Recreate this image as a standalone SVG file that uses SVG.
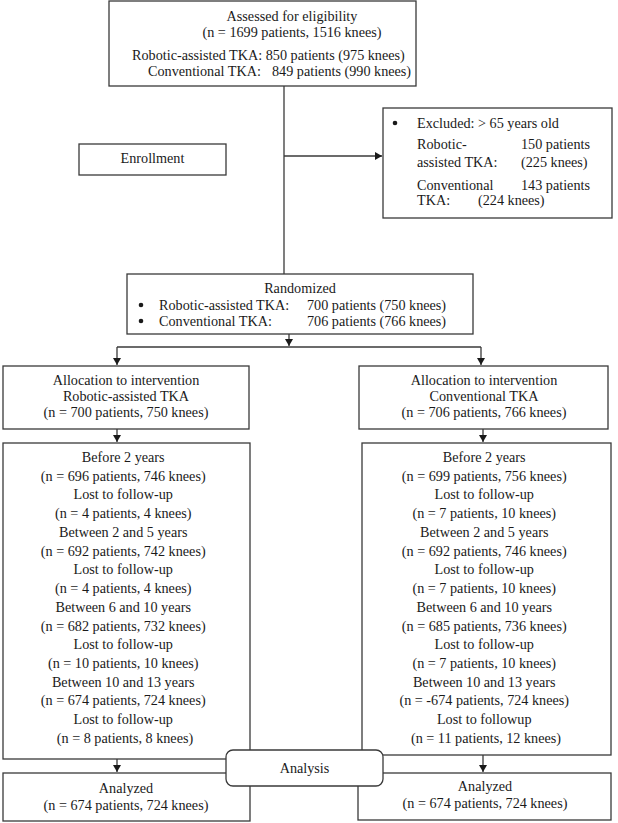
<svg xmlns="http://www.w3.org/2000/svg" width="618" height="823" viewBox="0 0 618 823">
<style>
text{font-family:"Liberation Serif","Times New Roman",serif;font-size:14.2px;fill:#1a1a1a}
.c{text-anchor:middle}
.box{fill:#fff;stroke:#3a3a3a;stroke-width:1.3}
.ln{fill:none;stroke:#3a3a3a;stroke-width:1.3}
.dot{fill:#1a1a1a}
</style>
<defs>
<marker id="ah" markerWidth="7" markerHeight="8" refX="7" refY="4" orient="auto" markerUnits="userSpaceOnUse">
<path d="M0,0 L7,4 L0,8 Z" fill="#1a1a1a"/>
</marker>
</defs>
<rect width="618" height="823" fill="#fff"/>
<g id="connectors">
<path class="ln" d="M284,86 V274"/>
<path class="ln" d="M284,156 H382" marker-end="url(#ah)"/>
<path class="ln" d="M289,334 V346" marker-end="url(#ah)"/>
<path class="ln" d="M117,347 H481"/>
<path class="ln" d="M117,347 V365" marker-end="url(#ah)"/>
<path class="ln" d="M481,347 V365" marker-end="url(#ah)"/>
<path class="ln" d="M117,429 V442" marker-end="url(#ah)"/>
<path class="ln" d="M483,429 V442" marker-end="url(#ah)"/>
<path class="ln" d="M117,759 V772" marker-end="url(#ah)"/>
<path class="ln" d="M483,755 V772" marker-end="url(#ah)"/>
</g>
<g id="assessed">
<rect class="box" x="109" y="1" width="307" height="85"/>
<text class="c" x="292" y="21">Assessed for eligibility</text>
<text class="c" x="292" y="37">(n = 1699 patients, 1516 knees)</text>
<text x="132" y="60">Robotic-assisted TKA: 850 patients (975 knees)</text>
<text x="148" y="76">Conventional TKA:</text>
<text x="272" y="76">849 patients (990 knees)</text>
</g>
<g id="excluded">
<rect class="box" x="383" y="108" width="229" height="110"/>
<circle class="dot" cx="395" cy="123" r="2.3"/>
<text x="417" y="128">Excluded: &gt; 65 years old</text>
<text x="417" y="149">Robotic-</text>
<text x="521" y="149">150 patients</text>
<text x="417" y="167">assisted TKA:</text>
<text x="521" y="167">(225 knees)</text>
<text x="417" y="190">Conventional</text>
<text x="521" y="190">143 patients</text>
<text x="417" y="205">TKA:</text>
<text x="478" y="205">(224 knees)</text>
</g>
<g id="enrollment">
<rect class="box" x="79" y="144" width="147" height="31"/>
<text class="c" x="152.5" y="163">Enrollment</text>
</g>
<g id="randomized">
<rect class="box" x="127" y="274" width="346" height="60"/>
<text class="c" x="300" y="293">Randomized</text>
<circle class="dot" cx="141" cy="305" r="2.3"/>
<circle class="dot" cx="141" cy="321" r="2.3"/>
<text x="159" y="310">Robotic-assisted TKA:</text>
<text x="307" y="310">700 patients (750 knees)</text>
<text x="159" y="326">Conventional TKA:</text>
<text x="307" y="326">706 patients (766 knees)</text>
</g>
<g id="alloc-robotic">
<rect class="box" x="3" y="366" width="246" height="63"/>
<text class="c" x="126" y="385">Allocation to intervention</text>
<text class="c" x="126" y="401">Robotic-assisted TKA</text>
<text class="c" x="126" y="417">(n = 700 patients, 750 knees)</text>
</g>
<g id="alloc-conventional">
<rect class="box" x="359" y="366" width="249" height="63"/>
<text class="c" x="484" y="385">Allocation to intervention</text>
<text class="c" x="484" y="401">Conventional TKA</text>
<text class="c" x="484" y="417">(n = 706 patients, 766 knees)</text>
</g>
<g id="followup-robotic">
<rect class="box" x="3" y="443" width="247" height="316"/>
<text class="c" x="125" y="462">
<tspan x="125">Before 2 years</tspan>
<tspan x="125" dy="18.73">(n = 696 patients, 746 knees)</tspan>
<tspan x="125" dy="18.73">Lost to follow-up</tspan>
<tspan x="125" dy="18.73">(n = 4 patients, 4 knees)</tspan>
<tspan x="125" dy="18.73">Between 2 and 5 years</tspan>
<tspan x="125" dy="18.73">(n = 692 patients, 742 knees)</tspan>
<tspan x="125" dy="18.73">Lost to follow-up</tspan>
<tspan x="125" dy="18.73">(n = 4 patients, 4 knees)</tspan>
<tspan x="125" dy="18.73">Between 6 and 10 years</tspan>
<tspan x="125" dy="18.73">(n = 682 patients, 732 knees)</tspan>
<tspan x="125" dy="18.73">Lost to follow-up</tspan>
<tspan x="125" dy="18.73">(n = 10 patients, 10 knees)</tspan>
<tspan x="125" dy="18.73">Between 10 and 13 years</tspan>
<tspan x="125" dy="18.73">(n = 674 patients, 724 knees)</tspan>
<tspan x="125" dy="18.73">Lost to follow-up</tspan>
<tspan x="125" dy="18.73">(n = 8 patients, 8 knees)</tspan>
</text>
</g>
<g id="followup-conventional">
<rect class="box" x="362" y="443" width="249" height="312"/>
<text class="c" x="486" y="462">
<tspan x="486">Before 2 years</tspan>
<tspan x="486" dy="18.73">(n = 699 patients, 756 knees)</tspan>
<tspan x="486" dy="18.73">Lost to follow-up</tspan>
<tspan x="486" dy="18.73">(n = 7 patients, 10 knees)</tspan>
<tspan x="486" dy="18.73">Between 2 and 5 years</tspan>
<tspan x="486" dy="18.73">(n = 692 patients, 746 knees)</tspan>
<tspan x="486" dy="18.73">Lost to follow-up</tspan>
<tspan x="486" dy="18.73">(n = 7 patients, 10 knees)</tspan>
<tspan x="486" dy="18.73">Between 6 and 10 years</tspan>
<tspan x="486" dy="18.73">(n = 685 patients, 736 knees)</tspan>
<tspan x="486" dy="18.73">Lost to follow-up</tspan>
<tspan x="486" dy="18.73">(n = 7 patients, 10 knees)</tspan>
<tspan x="486" dy="18.73">Between 10 and 13 years</tspan>
<tspan x="486" dy="18.73">(n = -674 patients, 724 knees)</tspan>
<tspan x="486" dy="18.73">Lost to followup</tspan>
<tspan x="486" dy="18.73">(n = 11 patients, 12 knees)</tspan>
</text>
</g>
<g id="analyzed-robotic">
<rect class="box" x="3" y="773" width="247" height="48"/>
<text class="c" x="126" y="793">Analyzed</text>
<text class="c" x="126" y="810">(n = 674 patients, 724 knees)</text>
</g>
<g id="analyzed-conventional">
<rect class="box" x="358" y="773" width="253" height="47"/>
<text class="c" x="485" y="791">Analyzed</text>
<text class="c" x="485" y="808">(n = 674 patients, 724 knees)</text>
</g>
<g id="analysis">
<rect class="box" x="226" y="750" width="157" height="36" rx="7"/>
<text class="c" x="304.5" y="773">Analysis</text>
</g>
</svg>
